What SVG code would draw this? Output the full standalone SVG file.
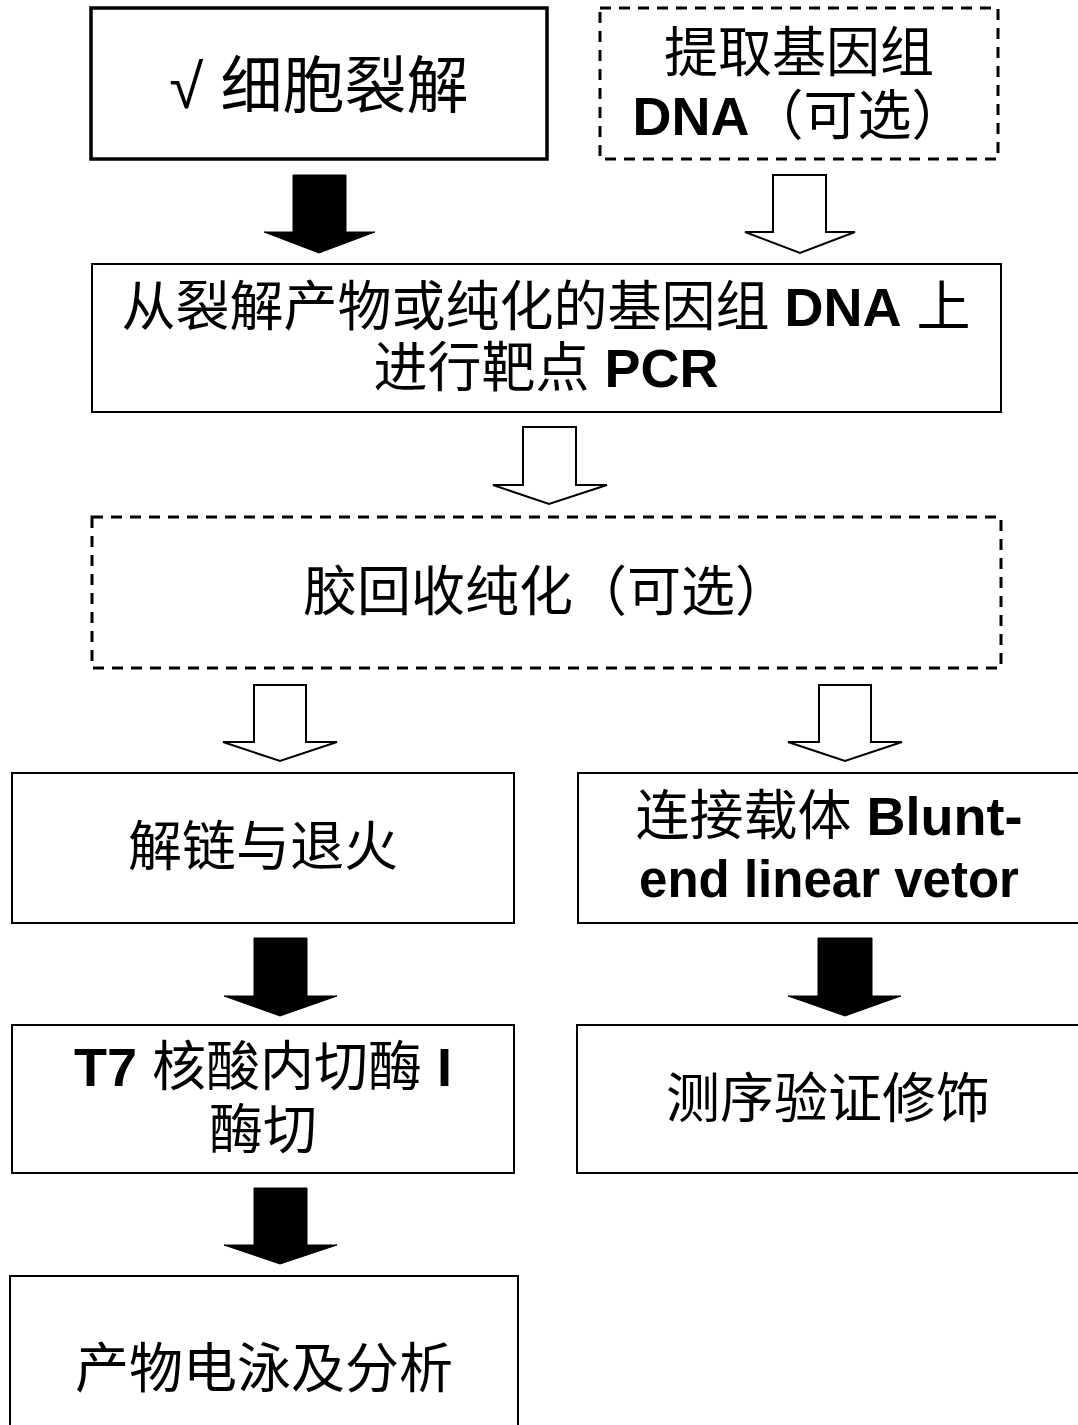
<svg xmlns="http://www.w3.org/2000/svg" width="1078" height="1425" viewBox="0 0 1078 1425">
<style>
.box{fill:#fff;stroke:#000;stroke-width:2}
.thick{stroke-width:3.5}
.dash{fill:#fff;stroke:#000;stroke-width:3;stroke-dasharray:11 8}
.t{font-family:"Liberation Sans","Noto Sans CJK SC",sans-serif;font-size:54px;fill:#000;text-anchor:middle}
.b{font-weight:bold}
.solid{fill:#000;stroke:#000;stroke-width:1}
.hollow{fill:#fff;stroke:#000;stroke-width:2;stroke-linejoin:miter}
</style>
<rect width="1078" height="1425" fill="#fff"/>
<g id="connectors">
<polygon class="solid" points="293,175 346,175 346,232 375,232 319,253 264,232 293,232"/>
<polygon class="hollow" points="773,175 826,175 826,232 855,232 800,253 745,232 773,232"/>
<polygon class="hollow" points="523,427 576,427 576,485 607,485 549,504 493,485 523,485"/>
<polygon class="hollow" points="254,685 306,685 306,742 337,742 280,761 223,742 254,742"/>
<polygon class="hollow" points="819,685 871,685 871,742 902,742 845,761 788,742 819,742"/>
<polygon class="solid" points="254,938 307,938 307,996 337,996 280,1016 224,996 254,996"/>
<polygon class="solid" points="818,938 872,938 872,996 901,996 845,1016 788,996 818,996"/>
<polygon class="solid" points="254,1188 307,1188 307,1245 337,1245 280,1264 224,1245 254,1245"/>
</g>
<g id="lysis">
<rect class="box thick" x="91" y="8" width="456" height="151"/>
<text class="t" x="319" y="108" style="font-size:62px">√ 细胞裂解</text>
</g>
<g id="extract">
<rect class="dash" x="600" y="8" width="398" height="151"/>
<text class="t" x="799" y="72">提取基因组</text>
<text class="t" x="799" y="135"><tspan class="b">DNA</tspan>（可选）</text>
</g>
<g id="pcr">
<rect class="box" x="92" y="264" width="909" height="148"/>
<text class="t" x="546" y="326">从裂解产物或纯化的基因组 <tspan class="b">DNA</tspan> 上</text>
<text class="t" x="546" y="387">进行靶点 <tspan class="b">PCR</tspan></text>
</g>
<g id="gel">
<rect class="dash" x="92" y="517" width="909" height="151"/>
<text class="t" x="546" y="611">胶回收纯化（可选）</text>
</g>
<g id="anneal">
<rect class="box" x="12" y="773" width="502" height="150"/>
<text class="t" x="263" y="866">解链与退火</text>
</g>
<g id="ligate">
<rect class="box" x="578" y="773" width="502" height="150"/>
<text class="t" x="829" y="835">连接载体 <tspan class="b">Blunt-</tspan></text>
<text class="t b" x="829" y="897" style="font-size:51px">end linear vetor</text>
</g>
<g id="t7">
<rect class="box" x="12" y="1025" width="502" height="148"/>
<text class="t" x="263" y="1086"><tspan class="b">T7</tspan> 核酸内切酶 <tspan class="b">I</tspan></text>
<text class="t" x="263" y="1149">酶切</text>
</g>
<g id="seq">
<rect class="box" x="577" y="1025" width="503" height="148"/>
<text class="t" x="828" y="1118">测序验证修饰</text>
</g>
<g id="electro">
<rect class="box" x="10" y="1276" width="508" height="200"/>
<text class="t" x="264" y="1388">产物电泳及分析</text>
</g>
</svg>
